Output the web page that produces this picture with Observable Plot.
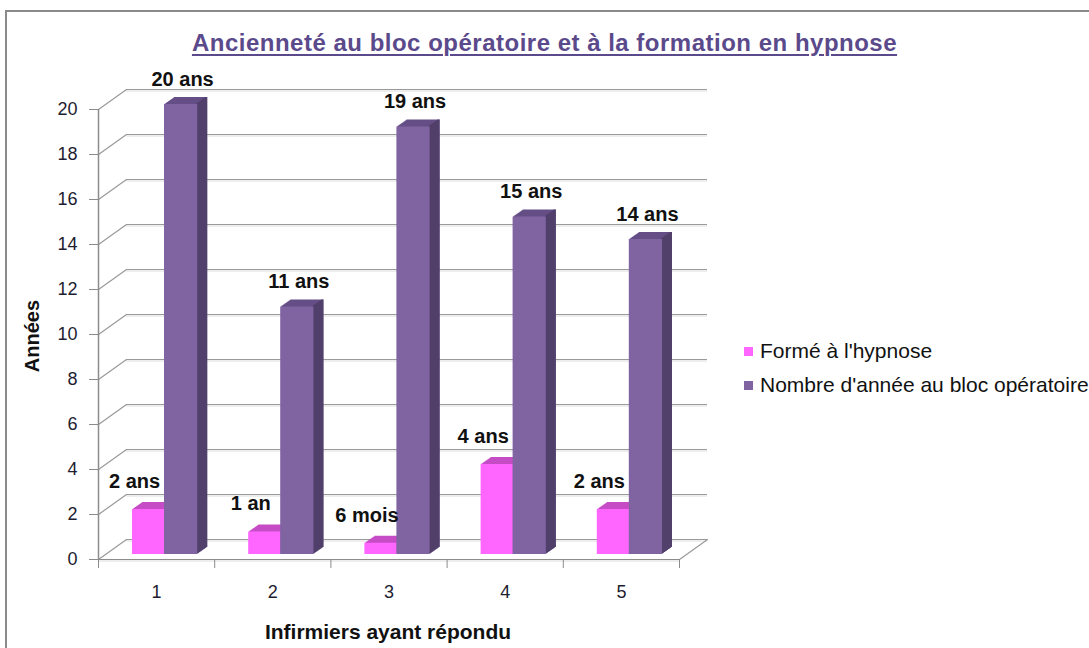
<!DOCTYPE html>
<html>
<head>
<meta charset="utf-8">
<script src="https://cdn.jsdelivr.net/npm/d3@7"></script>
<script src="https://cdn.jsdelivr.net/npm/@observablehq/plot@0.6"></script>
<style>
html, body { margin: 0; padding: 0; background: #fff; overflow: hidden; width: 1089px; height: 648px; font-family: "Liberation Sans", Arial, sans-serif; }
#wrap { position: relative; width: 1089px; height: 648px; overflow: hidden; }
#frame { position: absolute; left: 5px; top: 10px; width: 1300px; height: 900px; border-left: 2px solid #8a8a8a; border-top: 2px solid #8a8a8a; }
#chart { position: absolute; left: 0; top: 0; }
#title { position: absolute; left: 0; width: 1089px; top: 28px; line-height: 30px; text-align: center; font-weight: bold; font-size: 24px; letter-spacing: 0.5px; color: #5b4a8b; text-decoration: underline; text-decoration-thickness: 2px; text-underline-offset: 3px; }
#ytitle { position: absolute; left: 32px; top: 336px; transform: translate(-50%, -50%) rotate(-90deg); font-weight: bold; font-size: 20px; color: #111; white-space: nowrap; }
#xtitle { position: absolute; left: 388px; top: 632px; transform: translate(-50%, -50%); font-weight: bold; font-size: 21px; color: #111; white-space: nowrap; }
#legend { position: absolute; left: 744px; top: 334px; }
.item { display: flex; align-items: center; height: 34px; font-size: 21px; color: #111; white-space: nowrap; }
.sw { width: 9px; height: 9px; margin-right: 7px; }
</style>
</head>
<body>
<div id="wrap">
  <div id="frame"></div>
  <div id="chart"></div>
  <div id="title"></div>
  <div id="ytitle"></div>
  <div id="xtitle"></div>
  <div id="legend"></div>
</div>
<script>
// ---- Data ----
const categories = [1, 2, 3, 4, 5];
const formeHypnose = [2, 1, 0.5, 4, 2];
const anneesBloc = [20, 11, 19, 15, 14];
const labelsHypnose = ["2 ans", "1 an", "6 mois", "4 ans", "2 ans"];
const labelsBloc = ["20 ans", "11 ans", "19 ans", "15 ans", "14 ans"];
const yTicks = [0, 2, 4, 6, 8, 10, 12, 14, 16, 18, 20];
const xBoundaries = [0.5, 1.5, 2.5, 3.5, 4.5, 5.5];
const seriesNames = ["Formé à l'hypnose", "Nombre d'année au bloc opératoire"];
const titleText = "Ancienneté au bloc opératoire et à la formation en hypnose";
const yTitle = "Années";
const xTitle = "Infirmiers ayant répondu";

// ---- Styles ----
const C = {
  pinkFront: "#ff66ff", pinkTop: "#c64cc6",
  purpleFront: "#8064a2", purpleTop: "#654e86", purpleSide: "#51406b",
  grid: "#9a9a9a", gridShadow: "#dedede", axis: "#8c8c8c", text: "#1d1d30"
};
const FONT = '"Liberation Sans", Arial, sans-serif';

const rows = categories.map((c, i) => ({
  cat: c, hyp: formeHypnose[i], bloc: anneesBloc[i], lh: labelsHypnose[i], lb: labelsBloc[i]
}));

const DEPTH = 10, SLOPE = 0.7, LIFT = -5;
const WALL_DX = 28, WALL_DY = -20;
const pinkInset = {insetLeft: 34, insetRight: 50};
const purpleInset = {insetLeft: 66, insetRight: 17};
const purpleSideInset = {insetLeft: 97, insetRight: 17};

const lineShape = {draw(context, l) { context.moveTo(0, 0); context.lineTo(0, -l); }};

function bars(value, inset, fill, from, to) {
  const out = [];
  for (let i = from; i <= to; i++) {
    out.push(Plot.rect(rows, {
      x1: d => d.cat - 0.5, x2: d => d.cat + 0.5, y1: 0, y2: value,
      ...inset, fill, dx: i, dy: LIFT - SLOPE * i
    }));
  }
  return out;
}

const wallLen = Math.hypot(WALL_DX, WALL_DY);
const wallAngle = Math.atan2(WALL_DX, -WALL_DY) * 180 / Math.PI;

const chart = Plot.plot({
  width: 1089,
  height: 648,
  marginLeft: 98,
  marginRight: 410,
  marginTop: 109,
  marginBottom: 89,
  style: {fontFamily: FONT, background: "transparent"},
  x: {domain: [0.5, 5.5], axis: null},
  y: {domain: [0, 20], axis: null},
  marks: [
    // back wall gridlines (with soft shadow)
    Plot.ruleY(yTicks, {y: d => d, dx: WALL_DX, dy: WALL_DY + 1.5, stroke: C.gridShadow, strokeWidth: 1.2}),
    Plot.ruleY(yTicks, {y: d => d, dx: WALL_DX, dy: WALL_DY, stroke: C.grid, strokeWidth: 1.2}),
    // side wall diagonals
    Plot.vector(yTicks, {x: 0.5, y: d => d, length: wallLen, rotate: wallAngle, anchor: "start", shape: lineShape, stroke: C.grid, strokeWidth: 1.2}),
    // floor right edge diagonal
    Plot.vector([0], {x: 5.5, y: d => d, length: wallLen, rotate: wallAngle, anchor: "start", shape: lineShape, stroke: C.grid, strokeWidth: 1.2}),
    // front floor edge and vertical axis line
    Plot.ruleY([0], {y: d => d, dy: 1.5, stroke: C.gridShadow, strokeWidth: 1.2}),
    Plot.ruleY([0], {y: d => d, stroke: C.axis, strokeWidth: 1.2}),
    Plot.ruleX([0.5], {x: d => d, y1: 0, y2: 20, stroke: C.axis, strokeWidth: 1.5}),
    // pink bars: extrusion (top), front
    ...bars(d => d.hyp, pinkInset, C.pinkTop, 1, DEPTH),
    ...bars(d => d.hyp, pinkInset, C.pinkFront, 0, 0),
    // purple bars: extrusion (top), side, front
    ...bars(d => d.bloc, purpleInset, C.purpleTop, 1, DEPTH),
    ...bars(d => d.bloc, purpleSideInset, C.purpleSide, 1, DEPTH),
    ...bars(d => d.bloc, purpleInset, C.purpleFront, 0, 0),
    // value labels
    Plot.text(rows, {x: "cat", y: "hyp", text: "lh", dx: -22, dy: -33, fontSize: 20, fontWeight: "bold", fill: "#111"}),
    Plot.text(rows, {x: "cat", y: "bloc", text: "lb", dx: 26, dy: -30, fontSize: 20, fontWeight: "bold", fill: "#111"}),
    // axes
    Plot.axisY(yTicks, {tickSize: 9, tickPadding: 12, fontSize: 18, stroke: C.axis, fill: C.text, label: null}),
    Plot.axisX(xBoundaries, {tickSize: 9, tickFormat: () => "", stroke: C.axis, label: null}),
    Plot.axisX(categories, {tickSize: 0, tickPadding: 26, fontSize: 18, fill: C.text, label: null, tickFormat: d => String(d)})
  ]
});
document.getElementById("chart").appendChild(chart);

document.getElementById("title").textContent = titleText;
document.getElementById("ytitle").textContent = yTitle;
document.getElementById("xtitle").textContent = xTitle;

const legend = document.getElementById("legend");
[C.pinkFront, C.purpleFront].forEach((col, i) => {
  const item = document.createElement("div");
  item.className = "item";
  const sw = document.createElement("span");
  sw.className = "sw";
  sw.style.background = col;
  const t = document.createElement("span");
  t.textContent = seriesNames[i];
  item.appendChild(sw);
  item.appendChild(t);
  legend.appendChild(item);
});
</script>
</body>
</html>
